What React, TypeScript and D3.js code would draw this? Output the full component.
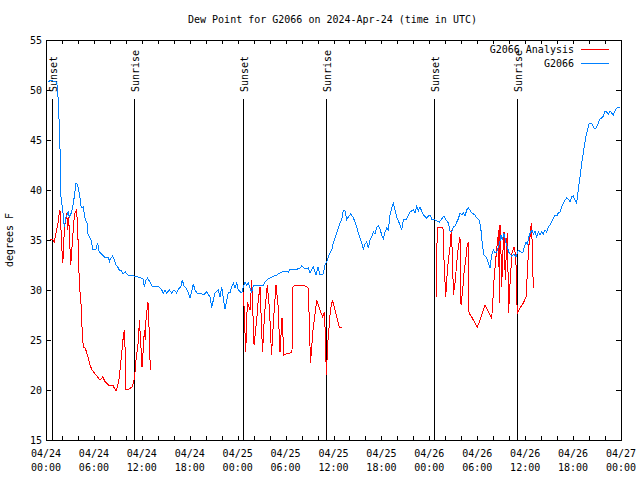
import React from "react";
import * as d3 from "d3";

// hours since 2024-04-24 00:00 UTC
const blueHours = [0.34,0.54,0.88,1.25,1.44,1.59,1.79,1.88,2.09,2.29,2.50,2.79,2.92,3.22,3.34,3.54,3.76,3.97,4.09,4.26,4.42,4.67,4.92,5.13,5.22,5.42,5.63,5.85,6.26,6.47,6.67,7.10,7.30,7.85,7.93,8.14,8.35,8.55,8.77,8.98,9.18,9.39,9.68,9.93,10.23,11.06,11.90,12.15,12.31,12.52,12.73,12.94,13.27,13.77,14.06,14.49,14.69,14.90,15.11,15.44,15.74,16.03,16.37,16.57,16.87,17.07,17.28,17.62,17.82,18.03,18.24,18.44,18.66,18.91,19.28,19.70,20.12,20.54,20.75,20.95,21.16,21.58,21.79,22.00,22.20,22.41,22.63,22.83,23.04,23.25,23.45,23.67,23.88,24.08,24.51,24.71,24.92,25.13,25.33,25.54,25.75,25.95,26.38,27.21,27.42,27.84,28.26,28.89,29.51,29.93,30.34,30.55,31.18,31.81,32.02,32.43,32.85,33.06,33.47,33.81,34.06,34.31,34.72,34.94,35.15,35.35,35.56,35.78,35.98,36.40,36.81,37.03,37.23,37.44,37.65,37.85,38.15,38.44,38.69,38.91,39.11,39.32,39.53,39.73,39.94,40.16,40.36,40.57,40.78,40.98,41.20,41.41,41.61,41.82,42.04,42.24,42.45,42.66,42.86,43.08,43.29,43.49,43.70,43.91,44.33,44.54,44.74,45.17,45.37,45.58,45.99,46.21,46.42,46.62,46.83,47.04,47.25,47.67,47.88,48.08,48.30,48.50,48.92,49.25,49.55,49.84,50.09,50.38,50.59,50.80,51.00,51.22,51.43,51.63,51.84,52.06,52.26,52.47,52.68,52.88,53.09,53.31,53.72,53.93,54.26,54.43,54.55,54.68,54.85,55.18,55.39,55.60,55.81,56.01,56.22,56.43,56.63,56.84,56.96,57.15,57.33,57.58,57.75,58.00,58.30,58.59,58.85,59.14,59.44,59.69,59.89,60.10,60.29,60.52,60.69,60.85,61.02,61.23,61.44,61.64,61.85,62.07,62.27,62.48,62.70,62.90,63.11,63.32,63.52,63.73,63.95,64.15,64.36,64.57,64.78,64.99,65.20,65.40,65.61,65.82,66.02,66.24,66.45,66.65,66.86,67.08,67.28,67.49,67.70,67.91,68.03,68.33,68.53,68.75,68.96,69.16,69.37,69.58,69.79,70.00,70.21,70.41,70.62,70.83,71.04,71.25,71.46,71.66,71.87];
const blueValues = [50.8,51.0,50.9,50.8,50.3,48.0,43.3,39.3,38.0,36.3,37.3,37.8,37.3,37.8,38.3,39.3,40.7,40.5,40.0,39.2,38.2,38.3,37.0,36.8,35.7,35.3,35.0,34.1,34.1,34.7,33.8,33.5,33.3,33.3,32.8,33.2,33.4,33.0,32.5,32.3,32.0,32.0,31.6,31.8,31.5,31.4,31.2,31.1,30.3,31.0,31.2,30.9,30.4,30.4,30.4,30.0,29.7,30.0,29.7,30.0,29.7,30.0,29.7,30.1,30.3,31.0,30.4,30.1,29.7,29.2,29.8,30.6,30.0,29.7,29.7,29.5,29.8,29.3,28.2,29.0,29.7,30.0,29.3,30.3,29.2,28.1,29.0,29.8,29.7,30.3,30.7,30.2,30.7,30.0,29.7,30.3,30.8,30.5,30.7,30.2,29.8,30.4,30.5,30.5,30.8,31.1,31.3,31.5,31.8,31.9,31.8,32.1,32.0,32.2,32.4,32.1,32.2,31.7,32.3,31.5,32.3,31.5,31.6,32.5,32.8,33.3,33.7,34.0,34.7,35.7,36.7,37.0,38.0,37.9,37.0,37.3,37.6,37.3,36.8,36.3,35.7,35.2,34.7,34.1,34.6,34.8,34.2,35.0,35.3,35.8,35.6,36.3,36.4,36.1,35.5,35.1,35.8,36.2,36.0,37.5,38.2,38.7,38.0,37.3,36.5,36.0,37.0,37.1,37.5,37.8,38.0,37.7,38.4,37.9,38.3,37.9,37.5,37.2,37.4,37.5,37.1,37.1,36.9,36.8,37.1,37.4,37.0,36.7,35.9,35.8,36.3,36.4,36.8,37.1,37.7,37.5,37.7,37.4,38.0,38.2,38.0,37.7,37.5,37.2,37.0,36.3,35.3,34.3,33.5,33.2,32.7,32.2,33.5,34.0,33.7,33.8,34.3,34.8,35.5,35.0,35.7,34.8,34.3,33.7,33.4,33.6,33.3,34.0,33.8,33.7,34.3,34.8,34.6,35.5,35.8,36.0,35.6,35.9,35.3,35.8,35.5,35.8,35.6,36.0,35.8,36.3,36.5,36.8,37.2,37.5,37.4,37.7,37.8,38.3,38.7,39.0,39.2,39.1,38.8,39.3,39.4,39.0,38.7,40.0,41.3,42.7,43.7,44.8,45.7,46.3,46.7,46.7,46.3,46.1,46.3,46.7,47.1,47.2,47.4,47.9,47.8,47.6,47.9,47.7,47.5,47.9,48.2,48.3,48.2];

// NaN marks a gap in the analysis series
const redHours = [0.56,0.75,1.04,1.25,1.47,1.67,1.75,1.88,2.00,2.09,2.17,2.29,2.42,2.59,2.72,2.84,3.01,3.09,3.22,3.34,3.54,3.67,3.84,3.97,4.09,4.17,4.38,4.51,4.67,4.92,5.10,5.30,5.51,5.76,6.05,6.47,6.76,7.10,7.43,7.85,8.35,8.55,8.77,8.98,9.18,9.39,9.60,9.73,9.85,9.93,10.02,10.43,10.77,10.98,11.14,11.27,11.48,11.61,11.68,11.81,12.02,12.18,12.31,12.43,12.52,12.65,12.77,12.94,13.06,
  18.0,
  24.73,25.01,25.21,25.55,25.76,26.05,26.38,26.58,26.80,27.11,27.36,27.71,27.99,28.24,28.49,28.80,29.05,29.30,29.55,29.80,30.05,30.55,30.80,30.93,31.18,31.81,32.43,32.85,33.00,33.12,33.43,33.90,34.31,34.65,34.87,35.00,35.10,35.31,35.62,35.88,36.40,36.73,37.03,
  42.0,
  48.84,48.92,49.00,49.67,49.75,49.84,50.05,50.17,50.38,50.59,50.75,50.93,51.00,51.22,51.43,51.63,51.84,51.97,52.18,52.34,52.55,52.75,52.88,52.97,53.30,53.72,54.01,54.35,54.68,54.97,55.18,55.60,55.81,55.94,56.10,56.31,56.51,56.69,56.76,56.85,56.94,57.06,57.19,57.35,57.51,57.69,57.77,57.94,58.02,58.19,58.35,58.60,58.73,58.85,58.94,59.02,59.35,59.77,60.11,60.27,60.44,60.61,60.77,60.86,61.02];
const redValues = [35.0,35.1,34.8,35.7,36.5,37.7,38.0,36.0,34.0,32.7,33.5,36.0,36.8,37.7,36.0,37.3,34.0,32.5,33.8,35.3,37.3,37.8,38.0,36.0,33.0,30.7,28.7,26.3,24.3,24.2,23.7,23.2,22.5,22.0,21.7,21.3,21.0,21.3,20.8,20.5,20.5,20.2,19.9,20.4,21.3,23.0,24.7,25.7,26.0,23.0,20.0,20.1,20.3,20.8,21.7,23.0,24.3,25.3,27.0,25.5,22.3,24.0,26.0,25.0,27.0,28.0,28.8,25.5,22.0,
  NaN,
  29.8,23.8,28.8,28.0,31.0,24.5,27.0,29.0,30.3,23.8,27.5,30.5,28.0,23.5,27.0,30.5,28.5,23.8,27.2,23.5,23.6,23.7,23.8,30.3,30.5,30.5,30.4,30.2,26.0,22.7,26.0,29.0,28.0,27.3,27.8,25.0,21.5,25.0,28.0,29.0,27.3,26.3,26.3,
  NaN,
  29.3,33.0,36.3,36.2,36.0,33.0,29.3,31.0,33.0,34.3,36.0,32.7,29.5,30.7,32.7,34.3,35.3,28.5,30.0,31.7,33.0,34.5,34.8,27.7,27.3,26.7,26.3,27.0,27.8,28.5,28.2,27.5,27.2,28.7,31.0,33.0,34.7,36.0,28.7,36.5,35.0,30.3,33.5,35.8,31.0,34.8,35.7,27.7,29.5,31.7,33.7,34.3,33.8,32.7,29.3,27.7,28.2,28.7,29.3,31.7,34.3,35.3,36.7,35.0,30.2];

const sunHours = [0.71, 11.06, 24.70, 35.00, 48.60, 59.00];
const sunLabels = ["Sunset", "Sunrise", "Sunset", "Sunrise", "Sunset", "Sunrise"];

const yTicks = [15, 20, 25, 30, 35, 40, 45, 50, 55];
const xLabelHours = [0, 6, 12, 18, 24, 30, 36, 42, 48, 54, 60, 66, 72];

const seriesNames = ["G2066 Analysis", "G2066"];
const seriesColors = ["#ff0000", "#0080ff"];

const titleText = "Dew Point for G2066 on 2024-Apr-24 (time in UTC)";
const yLabelText = "degrees F";

const BASE = Date.UTC(2024, 3, 24);
const toDate = (h: number) => new Date(BASE + h * 3600e3);

const W = 640, H = 480;
const L = 46, R = 621, T = 40, B = 440;
const FONT = "'DejaVu Sans Mono', 'Liberation Mono', monospace";

export default function App() {
  const x = d3.scaleUtc().domain([toDate(0), toDate(72)]).range([L, R]);
  const y = d3.scaleLinear().domain([15, 55]).range([B, T]);

  const blue = blueHours.map((h, i) => ({ t: toDate(h), v: blueValues[i] }));
  const red = redHours.map((h, i) => ({ t: toDate(h), v: redValues[i] }));

  const line = d3
    .line<{ t: Date; v: number }>()
    .defined((d) => !isNaN(d.v))
    .x((d) => x(d.t))
    .y((d) => y(d.v));

  const minorTicks = x.ticks(d3.utcHour.every(2) as any);
  const fmtDate = d3.utcFormat("%m/%d");
  const fmtTime = d3.utcFormat("%H:%M");

  return (
    <svg
      width={W}
      height={H}
      style={{ position: "absolute", left: 0, top: 0, background: "#fff" }}
      fontFamily={FONT}
      fontSize={10}
    >
      <rect x={0} y={0} width={W} height={H} fill="#fff" />
      <text x={(L + R) / 2 - 1} y={23} textAnchor="middle" fill="#000">
        {titleText}
      </text>

      {/* x ticks (bottom and top) */}
      {minorTicks.map((d, i) => (
        <g key={"xt" + i} stroke="#000" shapeRendering="crispEdges">
          <line x1={Math.round(x(d)) + 0.5} x2={Math.round(x(d)) + 0.5} y1={B} y2={B - 4} />
          <line x1={Math.round(x(d)) + 0.5} x2={Math.round(x(d)) + 0.5} y1={T} y2={T + 4} />
        </g>
      ))}
      {/* y ticks (left and right) */}
      {yTicks.map((v) => (
        <g key={"yt" + v}>
          <line x1={L} x2={L + 5} y1={Math.round(y(v)) + 0.5} y2={Math.round(y(v)) + 0.5} stroke="#000" shapeRendering="crispEdges" />
          <line x1={R - 5} x2={R} y1={Math.round(y(v)) + 0.5} y2={Math.round(y(v)) + 0.5} stroke="#000" shapeRendering="crispEdges" />
          <text x={42} y={y(v) + 4} textAnchor="end" fill="#000">
            {v}
          </text>
        </g>
      ))}
      {xLabelHours.map((h) => (
        <g key={"xl" + h}>
          <text x={x(toDate(h))} y={457} textAnchor="middle" fill="#000">
            {fmtDate(toDate(h))}
          </text>
          <text x={x(toDate(h))} y={471} textAnchor="middle" fill="#000">
            {fmtTime(toDate(h))}
          </text>
        </g>
      ))}
      <text transform={`translate(13,${(T + B) / 2}) rotate(-90)`} textAnchor="middle" fill="#000">
        {yLabelText}
      </text>

      {/* sunrise / sunset markers */}
      {sunHours.map((h, i) => {
        const px = Math.round(x(toDate(h))) + 0.5;
        return (
          <g key={"sun" + i}>
            <line x1={px} x2={px} y1={99} y2={B} stroke="#000" shapeRendering="crispEdges" />
            <text transform={`translate(${px + 4},92) rotate(-90)`} textAnchor="start" fill="#000">
              {sunLabels[i]}
            </text>
          </g>
        );
      })}

      {/* data */}
      <path d={line(red) || ""} fill="none" stroke={seriesColors[0]} strokeWidth={1} shapeRendering="crispEdges" />
      <path d={line(blue) || ""} fill="none" stroke={seriesColors[1]} strokeWidth={1} shapeRendering="crispEdges" />

      {/* legend */}
      {seriesNames.map((name, i) => (
        <g key={"lg" + i}>
          <text x={574} y={53 + i * 14} textAnchor="end" fill="#000">
            {name}
          </text>
          <line x1={581} x2={609} y1={49.5 + i * 14} y2={49.5 + i * 14} stroke={seriesColors[i]} shapeRendering="crispEdges" />
        </g>
      ))}

      {/* frame */}
      <rect x={L + 0.5} y={T + 0.5} width={R - L} height={B - T} fill="none" stroke="#000" shapeRendering="crispEdges" />
    </svg>
  );
}
